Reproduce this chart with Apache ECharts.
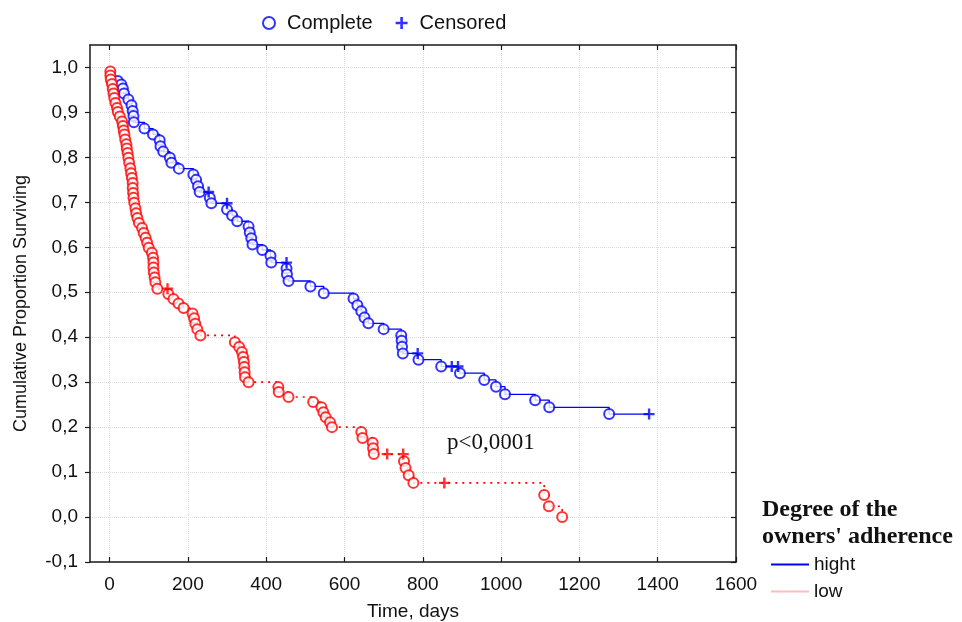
<!DOCTYPE html>
<html>
<head>
<meta charset="utf-8">
<script src="https://cdn.jsdelivr.net/npm/echarts@6/dist/echarts.min.js"></script>
<style>
html, body { margin: 0; padding: 0; background: #fff; }
#chart { width: 962px; height: 622px; }
</style>
</head>
<body>
<div id="chart"></div>
<script>
// tick labels
var xTicks = [0, 200, 400, 600, 800, 1000, 1200, 1400, 1600];
var yTicks = [-0.1, 0, 0.1, 0.2, 0.3, 0.4, 0.5, 0.6, 0.7, 0.8, 0.9, 1.0];

// group "hight": time (days), survival, censored flag
var hightDays = [21, 30, 34, 37, 48, 56, 59, 61, 62, 89, 111, 128, 130, 137, 154, 158, 177,
    214, 221, 226, 230, 253, 256, 260, 300, 300, 313, 326, 355, 358, 362, 365, 390, 411, 413,
    452, 452, 453, 457, 513, 547, 623, 633, 643, 651, 661, 700, 745, 746, 747, 749, 787, 789,
    847, 874, 890, 895, 957, 987, 1010, 1087, 1123, 1276, 1378];
var hightSurv = [0.970, 0.962, 0.953, 0.942, 0.929, 0.916, 0.903, 0.892, 0.878, 0.864, 0.851,
    0.838, 0.825, 0.813, 0.799, 0.788, 0.775, 0.762, 0.750, 0.736, 0.723, 0.723, 0.710, 0.698,
    0.698, 0.684, 0.671, 0.658, 0.646, 0.633, 0.620, 0.606, 0.594, 0.581, 0.566, 0.566, 0.553,
    0.540, 0.525, 0.513, 0.498, 0.486, 0.471, 0.458, 0.444, 0.431, 0.418, 0.404, 0.392, 0.379,
    0.364, 0.364, 0.350, 0.335, 0.335, 0.335, 0.320, 0.305, 0.290, 0.273, 0.260, 0.244, 0.229,
    0.229];
var hightCens = [0, 0, 0, 0, 0, 0, 0, 0, 0, 0, 0, 0, 0, 0, 0, 0, 0, 0, 0, 0, 0, 1, 0, 0, 1, 0,
    0, 0, 0, 0, 0, 0, 0, 0, 0, 1, 0, 0, 0, 0, 0, 0, 0, 0, 0, 0, 0, 0, 0, 0, 0, 1, 0, 0, 1, 1,
    0, 0, 0, 0, 0, 0, 0, 1];

// group "low"
var lowDays = [2, 2, 3, 6, 8, 10, 12, 15, 19, 21, 26, 32, 34, 36, 38, 40, 43, 44, 46, 48, 50,
    53, 55, 57, 59, 59, 60, 61, 63, 66, 68, 71, 75, 83, 87, 92, 96, 100, 108, 111, 112, 112,
    113, 115, 117, 122, 148, 150, 163, 176, 189, 212, 216, 219, 224, 232, 320, 331, 338, 341,
    343, 344, 345, 346, 355, 431, 432, 457, 520, 541, 546, 552, 563, 568, 643, 646, 672, 673,
    675, 709, 750, 752, 756, 764, 776, 855, 1110, 1122, 1156];
var lowSurv = [0.991, 0.982, 0.973, 0.963, 0.952, 0.942, 0.932, 0.921, 0.910, 0.901, 0.891,
    0.880, 0.870, 0.860, 0.851, 0.840, 0.829, 0.820, 0.810, 0.799, 0.788, 0.776, 0.765, 0.754,
    0.743, 0.732, 0.721, 0.710, 0.699, 0.687, 0.676, 0.665, 0.654, 0.643, 0.632, 0.621, 0.610,
    0.599, 0.588, 0.577, 0.566, 0.555, 0.544, 0.533, 0.522, 0.508, 0.508, 0.496, 0.485, 0.475,
    0.465, 0.453, 0.442, 0.430, 0.418, 0.404, 0.389, 0.378, 0.367, 0.356, 0.345, 0.334, 0.322,
    0.311, 0.300, 0.289, 0.278, 0.267, 0.256, 0.244, 0.233, 0.222, 0.211, 0.200, 0.189, 0.176,
    0.165, 0.153, 0.140, 0.140, 0.140, 0.124, 0.109, 0.093, 0.076, 0.076, 0.049, 0.024, 0.000];
var lowCens = [0, 0, 0, 0, 0, 0, 0, 0, 0, 0, 0, 0, 0, 0, 0, 0, 0, 0, 0, 0, 0, 0, 0, 0, 0, 0,
    0, 0, 0, 0, 0, 0, 0, 0, 0, 0, 0, 0, 0, 0, 0, 0, 0, 0, 0, 0, 1, 0, 0, 0, 0, 0, 0, 0, 0, 0,
    0, 0, 0, 0, 0, 0, 0, 0, 0, 0, 0, 0, 0, 0, 0, 0, 0, 0, 0, 0, 0, 0, 0, 1, 1, 0, 0, 0, 0, 1,
    0, 0, 0];

var blue = '#0000ff';
var red = '#ff0000';
var sans = 'Liberation Sans';
var plusPath = 'path://M3.9,0H6.1V3.9H10V6.1H6.1V10H3.9V6.1H0V3.9H3.9Z';

function stepCurve(days, surv)
{
    var d = [];
    for (var i = 0; i < days.length; i++) {
        d.push([days[i], surv[i]]);
    }
    return d;
}

function pick(days, surv, cens, flag)
{
    var d = [];
    for (var i = 0; i < days.length; i++) {
        if (cens[i] === flag) d.push([days[i], surv[i]]);
    }
    return d;
}

var frameLine = { show: true, onZero: false, lineStyle: { color: '#1a1a1a', width: 1.5 } };
var gridLine = { show: true, lineStyle: { color: '#dcdcdc', type: 'dotted', width: 1 } };
var tickStyle = { color: '#1a1a1a', width: 1.2 };

var option = {
    animation: false,
    backgroundColor: '#fff',
    grid: { left: 90, top: 45, right: 226, bottom: 60, outerBoundsMode: 'none', containLabel: false },
    legend: [
        {
            data: ['Complete', 'Censored'],
            left: 257,
            top: 8,
            itemWidth: 26,
            itemHeight: 12,
            itemGap: 23,
            textStyle: { fontFamily: sans, fontSize: 20, color: '#111' }
        },
        {
            orient: 'vertical',
            left: 766,
            top: 550,
            itemWidth: 38,
            itemHeight: 2,
            itemGap: 8,
            textStyle: { fontFamily: sans, fontSize: 19, color: '#111' },
            data: [
                { name: 'hight', icon: 'rect', itemStyle: { color: blue } },
                { name: 'low', icon: 'rect', itemStyle: { color: '#ffbcbc' } }
            ]
        }
    ],
    graphic: [
        { type: 'text', left: 762, top: 498, style: { text: 'Degree of the', font: 'bold 24px "Liberation Serif"', fill: '#111' } },
        { type: 'text', left: 762, top: 525, style: { text: "owners' adherence", font: 'bold 24px "Liberation Serif"', fill: '#111' } },
        { type: 'text', left: 447, top: 431, style: { text: 'p<0,0001', font: '23px "Liberation Serif"', fill: '#111' } }
    ],
    xAxis: [
        {
            type: 'value', min: -50, max: 1600, position: 'bottom',
            name: 'Time, days', nameLocation: 'middle', nameGap: 40,
            nameTextStyle: { fontFamily: sans, fontSize: 19, color: '#111' },
            axisLine: frameLine,
            axisTick: { show: true, inside: true, length: 5, customValues: xTicks, lineStyle: tickStyle },
            axisLabel: {
                customValues: xTicks, fontFamily: sans, fontSize: 19, color: '#111', margin: 13,
                formatter: function (v) { return String(v); }
            },
            splitLine: gridLine
        },
        {
            type: 'value', min: -50, max: 1600, position: 'top',
            axisLine: frameLine,
            axisTick: { show: true, inside: true, length: 5, customValues: xTicks, lineStyle: tickStyle },
            axisLabel: { show: false },
            splitLine: { show: false }
        }
    ],
    yAxis: [
        {
            type: 'value', min: -0.1, max: 1.05, position: 'left',
            name: 'Cumulative Proportion Surviving', nameLocation: 'middle', nameGap: 60,
            nameTextStyle: { fontFamily: sans, fontSize: 18, color: '#111' },
            axisLine: frameLine,
            axisTick: { show: true, inside: false, length: 5, customValues: yTicks, lineStyle: tickStyle },
            axisLabel: {
                customValues: yTicks, fontFamily: sans, fontSize: 19, color: '#111', margin: 12,
                formatter: function (v) { return v.toFixed(1).replace('.', ','); }
            },
            splitLine: gridLine
        },
        {
            type: 'value', min: -0.1, max: 1.05, position: 'right',
            axisLine: frameLine,
            axisTick: { show: true, inside: true, length: 5, customValues: yTicks, lineStyle: tickStyle },
            axisLabel: { show: false },
            splitLine: { show: false }
        }
    ],
    series: [
        {
            name: 'hight', type: 'line', step: 'end', symbol: 'none',
            data: stepCurve(hightDays, hightSurv),
            lineStyle: { color: blue, width: 1.3 },
            itemStyle: { color: blue }
        },
        {
            name: 'low', type: 'line', step: 'end', symbol: 'none',
            data: stepCurve(lowDays, lowSurv),
            lineStyle: { color: red, width: 1.6, type: [2, 5] },
            itemStyle: { color: red }
        },
        {
            name: 'Complete', type: 'scatter', symbol: 'emptyCircle', symbolSize: 10,
            data: pick(hightDays, hightSurv, hightCens, 0),
            itemStyle: { color: blue, borderWidth: 1.4 }, z: 3
        },
        {
            name: 'Complete', type: 'scatter', symbol: 'emptyCircle', symbolSize: 10,
            data: pick(lowDays, lowSurv, lowCens, 0),
            itemStyle: { color: red, borderWidth: 1.4 }, z: 3
        },
        {
            name: 'Censored', type: 'scatter', symbol: plusPath, symbolSize: 11,
            data: pick(hightDays, hightSurv, hightCens, 1),
            itemStyle: { color: blue }, z: 4
        },
        {
            name: 'Censored', type: 'scatter', symbol: plusPath, symbolSize: 11,
            data: pick(lowDays, lowSurv, lowCens, 1),
            itemStyle: { color: red }, z: 4
        }
    ]
};

var chart = echarts.init(document.getElementById('chart'));
chart.setOption(option);
</script>
</body>
</html>
